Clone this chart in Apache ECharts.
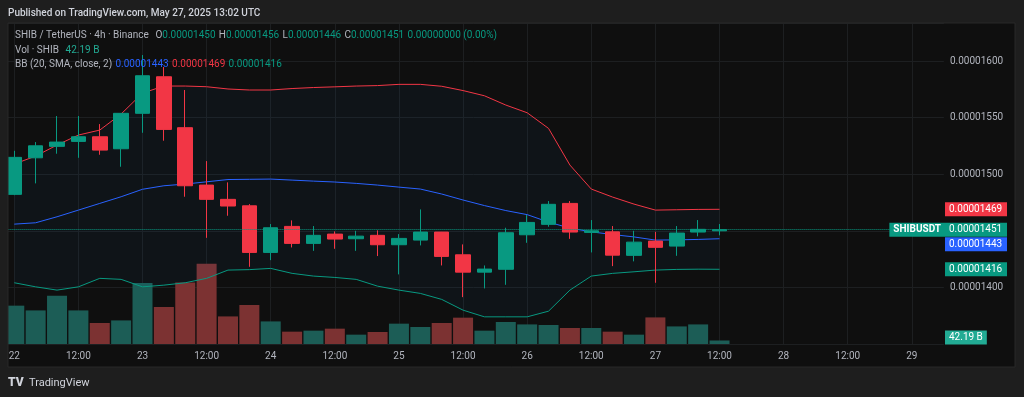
<!DOCTYPE html>
<html>
<head>
<meta charset="utf-8">
<script src="https://cdn.jsdelivr.net/npm/echarts/dist/echarts.min.js"></script>
<style>
    html, body { margin: 0; padding: 0; background: #1e1e1e; }
    #chart { width: 1024px; height: 397px; }
</style>
</head>
<body>
<div id="chart"></div>
<script>
    // 4h candles, 22 May 00:00 -> 29 May 04:00 (empty slots on the right)
    var days = [22, 23, 24, 25, 26, 27, 28, 29];
    var hours = ['00:00', '04:00', '08:00', '12:00', '16:00', '20:00'];
    var SLOTS = 44;

    // prices in units of 1e-8 USDT
    var opens  = [1482.2, 1514.5, 1524.6, 1529.0, 1533.1, 1522.5, 1553.8, 1586.1, 1541.1, 1490.4, 1477.8, 1472.1, 1430.9, 1453.9, 1438.9, 1447.1, 1443.0, 1446.0, 1437.7, 1441.8, 1448.9, 1428.8, 1413.5, 1416.0, 1446.5, 1455.7, 1474.2, 1448.6, 1449.1, 1428.3, 1440.9, 1436.5, 1448.9, 1450];
    var highs  = [1520.7, 1528.4, 1551.4, 1551.4, 1544.3, 1553.8, 1605.3, 1594.7, 1574.4, 1511.6, 1492.8, 1473.6, 1456.0, 1459.2, 1454.2, 1449.5, 1450.0, 1450.4, 1447.1, 1468.9, 1449.0, 1438.0, 1419.4, 1452.7, 1463.9, 1476.3, 1476.3, 1459.5, 1454.2, 1450.0, 1449.1, 1454.2, 1459.5, 1456];
    var lows   = [1481.5, 1491.9, 1518.1, 1514.5, 1517.2, 1506.6, 1536.6, 1529.6, 1480.1, 1443.8, 1463.3, 1418.2, 1424.1, 1435.3, 1432.3, 1434.1, 1432.3, 1427.7, 1411.5, 1437.1, 1419.4, 1391.4, 1399.1, 1402.3, 1439.4, 1453.6, 1442.9, 1430.9, 1418.8, 1423.0, 1404.1, 1427.9, 1445.1, 1446];
    var closes = [1514.9, 1525.1, 1528.4, 1533.1, 1521.3, 1553.8, 1587.0, 1539.6, 1489.8, 1477.8, 1471.9, 1430.9, 1452.7, 1438.9, 1446.0, 1442.7, 1445.3, 1437.7, 1443.3, 1448.9, 1427.4, 1413.5, 1416.2, 1448.3, 1457.4, 1473.4, 1448.9, 1450.0, 1428.5, 1440.0, 1435.4, 1448.0, 1451.3, 1451];

    // volume, billions of SHIB
    var volumes = [460, 403, 580, 403, 252, 283, 732, 444, 739, 964, 331, 468, 271, 148, 160, 184, 112, 144, 244, 204, 252, 316, 160, 264, 235, 228, 192, 192, 148, 112, 319, 211, 235, 42.19];

    // Bollinger bands (20, SMA, close, 2)
    var bbUpper = [1509.0, 1516.0, 1525.8, 1534.6, 1539.0, 1553.2, 1571.7, 1577.9, 1577.9, 1577.3, 1575.3, 1574.4, 1574.4, 1575.7, 1576.6, 1577.2, 1577.9, 1578.3, 1579.4, 1579.4, 1577.7, 1573.9, 1569.3, 1561.1, 1554.3, 1540.5, 1508.1, 1486.9, 1479.8, 1473.6, 1468.3, 1468.6, 1468.9, 1469];
    var bbMid   = [1455.9, 1457.1, 1462.4, 1468.3, 1474.2, 1480.1, 1486.7, 1489.8, 1491.3, 1493.3, 1495.3, 1495.5, 1495.7, 1494.8, 1493.9, 1493.1, 1491.9, 1490.4, 1488.6, 1486.9, 1482.5, 1477.2, 1472.3, 1467.9, 1464.3, 1457.7, 1452.4, 1449.1, 1446.7, 1444.6, 1441.8, 1442.0, 1442.4, 1443];
    var bbLower = [1404.1, 1400.5, 1397.6, 1400.5, 1408.0, 1407.1, 1400.5, 1402.0, 1404.1, 1408.0, 1415.3, 1415.7, 1416.8, 1412.4, 1410.0, 1408.8, 1407.1, 1401.1, 1397.6, 1394.7, 1389.4, 1379.9, 1374.0, 1374.0, 1374.0, 1379.0, 1397.6, 1410.0, 1412.4, 1413.8, 1415.3, 1415.9, 1416.1, 1416];

    // price axis ticks
    var priceMin = 1350, priceMax = 1633.6, priceStep = 50;

    var UP = '#089981', DOWN = '#f23645', BLUE = '#2962ff';
    var VOL_UP = '#1c5d56', VOL_DOWN = '#7c3232';
    var TXT = '#b2b5be', FRAME = '#1e1e1e';
    var FONT = 'Roboto, "Noto Sans", sans-serif';

    var categories = [];
    days.forEach(function (d) {
        hours.forEach(function (h) { categories.push(d + ' ' + h); });
    });
    categories = categories.slice(0, SLOTS);

    function fmt(v) { return (v * 1e-8).toFixed(8); }

    var candleData = opens.map(function (o, i) { return [o, closes[i], lows[i], highs[i]]; });
    var volData = volumes.map(function (v, i) {
        return { value: v, itemStyle: { color: closes[i] >= opens[i] ? VOL_UP : VOL_DOWN } };
    });
    // width of the band, stacked on the lower line for the fill
    var bandWidth = bbUpper.map(function (u, i) { return +(u - bbLower[i]).toFixed(2); });

    var last = opens.length - 1;
    var chart = echarts.init(document.getElementById('chart'));

    var option = {
        backgroundColor: '#0f0f0f',
        animation: false,
        textStyle: { fontFamily: FONT },
        grid: { left: 3.6, right: 80.1, top: 23, bottom: 53, outerBoundsMode: 'none' },
        xAxis: {
            type: 'category',
            data: categories,
            boundaryGap: true,
            axisLine: { show: false },
            axisTick: { show: false },
            axisLabel: {
                interval: 2,
                color: TXT,
                fontSize: 10,
                fontFamily: FONT,
                margin: 7,
                formatter: function (val) {
                    var p = val.split(' ');
                    return p[1] === '00:00' ? p[0] : p[1];
                }
            },
            splitLine: { show: true, interval: 2, alignWithLabel: true, lineStyle: { color: '#1d1f21', width: 1 } }
        },
        yAxis: [{
            type: 'value',
            position: 'right',
            min: priceMin,
            max: priceMax,
            interval: priceStep,
            axisLine: { show: false },
            axisTick: { show: false },
            axisLabel: {
                color: TXT,
                fontSize: 10,
                fontFamily: FONT,
                margin: 6,
                showMinLabel: false,
                showMaxLabel: false,
                formatter: fmt
            },
            splitLine: { lineStyle: { color: '#1d1f21', width: 1 } }
        }, {
            type: 'value',
            min: 0,
            max: 3852,
            show: false,
            splitLine: { show: false }
        }],
        series: [{
            name: 'Vol',
            type: 'bar',
            yAxisIndex: 1,
            barWidth: 20,
            data: volData,
            z: 1
        }, {
            name: 'BB lower',
            type: 'line',
            stack: 'bb',
            data: bbLower,
            symbol: 'none',
            lineStyle: { color: UP, width: 1 },
            z: 2
        }, {
            name: 'BB upper',
            type: 'line',
            stack: 'bb',
            data: bandWidth,
            symbol: 'none',
            lineStyle: { color: DOWN, width: 1 },
            areaStyle: { color: 'rgba(33,150,243,0.06)' },
            z: 2
        }, {
            name: 'BB basis',
            type: 'line',
            data: bbMid,
            symbol: 'none',
            lineStyle: { color: BLUE, width: 1 },
            z: 2
        }, {
            name: 'SHIBUSDT',
            type: 'candlestick',
            data: candleData,
            barWidth: 15,
            itemStyle: {
                color: UP,
                color0: DOWN,
                borderColor: UP,
                borderColor0: DOWN,
                borderColorDoji: UP,
                borderWidth: 1
            },
            markLine: {
                silent: true,
                symbol: ['none', 'none'],
                label: { show: false },
                lineStyle: { color: UP, type: 'dotted', width: 1 },
                data: [{ yAxis: closes[last] }]
            },
            z: 3
        }]
    };
    chart.setOption(option);

    // price tags on the right scale
    var tags = [
        { v: bbUpper[last], c: DOWN },
        { v: closes[last], c: UP, name: 'SHIBUSDT' },
        { v: bbMid[last], c: BLUE },
        { v: bbLower[last], c: UP }
    ];
    var prevY = -100;
    tags.forEach(function (t) {
        var y = chart.convertToPixel({ yAxisIndex: 0 }, t.v);
        if (y - prevY < 14.5) y = prevY + 14.5;
        prevY = y;
        t.y = y;
    });

    var els = [
        // frame round the panel
        { type: 'rect', shape: { x: 0, y: 0, width: 1024, height: 23 }, style: { fill: FRAME }, z: 100 },
        { type: 'rect', shape: { x: 0, y: 367, width: 1024, height: 30 }, style: { fill: FRAME }, z: 100 },
        { type: 'rect', shape: { x: 0, y: 0, width: 8, height: 397 }, style: { fill: FRAME }, z: 100 },
        { type: 'rect', shape: { x: 1015, y: 0, width: 9, height: 397 }, style: { fill: FRAME }, z: 100 },
        { type: 'rect', shape: { x: 8, y: 23, width: 1007, height: 344 }, style: { fill: null, stroke: '#292929', lineWidth: 1 }, z: 101 },
        {
            type: 'text', x: 8, y: 13, z: 102,
            style: { text: 'Published on TradingView.com, May 27, 2025 13:02 UTC', fill: '#d1d4dc', font: '500 10px ' + FONT, verticalAlign: 'middle' }
        },
        {
            type: 'text', x: 8, y: 383, z: 102,
            style: { text: 'TV', fill: '#d1d4dc', font: '900 12px ' + FONT, verticalAlign: 'middle' }
        },
        {
            type: 'text', x: 29, y: 383, z: 102,
            style: { text: 'TradingView', fill: '#d1d4dc', font: '11px ' + FONT, verticalAlign: 'middle' }
        },
        {
            type: 'text', x: 15, y: 35, z: 102,
            style: {
                text: '{n|SHIB / TetherUS · 4h · Binance}  {n|O}{v|' + fmt(opens[last]) + '} {n|H}{v|' + fmt(highs[last]) +
                    '} {n|L}{v|' + fmt(lows[last]) + '} {n|C}{v|' + fmt(closes[last]) + '} {v|0.00000000 (0.00%)}',
                verticalAlign: 'middle',
                rich: {
                    n: { fill: TXT, font: '10px ' + FONT },
                    v: { fill: UP, font: '10px ' + FONT }
                }
            }
        },
        {
            type: 'text', x: 15, y: 50, z: 102,
            style: {
                text: '{n|Vol · SHIB}  {v|' + volumes[last].toFixed(2) + ' B}',
                verticalAlign: 'middle',
                rich: {
                    n: { fill: TXT, font: '10px ' + FONT },
                    v: { fill: '#22ab94', font: '10px ' + FONT }
                }
            }
        },
        {
            type: 'text', x: 15, y: 64, z: 102,
            style: {
                text: '{n|BB (20, SMA, close, 2)} {b|' + fmt(bbMid[last]) + '} {r|' + fmt(bbUpper[last]) + '} {g|' + fmt(bbLower[last]) + '}',
                verticalAlign: 'middle',
                rich: {
                    n: { fill: TXT, font: '10px ' + FONT },
                    b: { fill: BLUE, font: '10px ' + FONT },
                    r: { fill: DOWN, font: '10px ' + FONT },
                    g: { fill: UP, font: '10px ' + FONT }
                }
            }
        }
    ];

    tags.forEach(function (t) {
        els.push({
            type: 'text', x: 945, y: t.y, z: 103,
            style: {
                text: fmt(t.v), fill: '#ffffff', font: '10px ' + FONT,
                verticalAlign: 'middle', backgroundColor: t.c, padding: [2, 4, 2, 4], width: 54
            }
        });
        if (t.name) {
            els.push({
                type: 'text', x: 945, y: t.y, z: 103,
                style: {
                    text: t.name, fill: '#ffffff', font: 'bold 10px ' + FONT, align: 'right',
                    verticalAlign: 'middle', backgroundColor: t.c, padding: [2, 4, 2, 4]
                }
            });
        }
    });

    // volume tag
    var volY = Math.min(chart.convertToPixel({ yAxisIndex: 1 }, volumes[last]), 337.5);
    els.push({
        type: 'text', x: 945, y: volY, z: 103,
        style: {
            text: volumes[last].toFixed(2) + ' B', fill: '#ffffff', font: '10px ' + FONT,
            verticalAlign: 'middle', backgroundColor: '#22ab94', padding: [2, 4, 2, 4]
        }
    });

    chart.setOption({ graphic: { elements: els } });
</script>
</body>
</html>
